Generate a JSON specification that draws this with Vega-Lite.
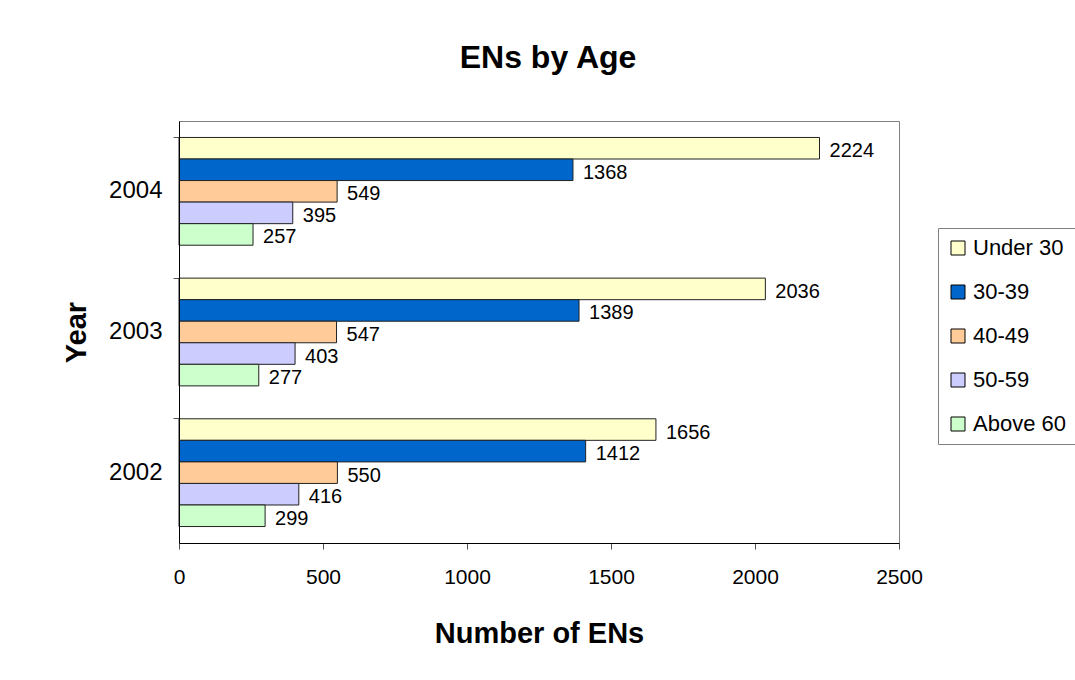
{
  "$schema": "https://vega.github.io/schema/vega-lite/v6.json",
  "autosize": {"type": "none"},
  "width": 720,
  "height": 422,
  "padding": {"left": 179, "top": 121, "right": 176, "bottom": 137},
  "background": "white",
  "title": {
    "text": "ENs by Age",
    "font": "Liberation Sans",
    "fontSize": 32,
    "fontWeight": "bold",
    "color": "black",
    "anchor": "middle",
    "frame": "group",
    "dx": 9,
    "offset": 46
  },
  "data": {
    "values": [
      {"Year": "2004", "Age": "Under 30", "Count": 2224},
      {"Year": "2004", "Age": "30-39", "Count": 1368},
      {"Year": "2004", "Age": "40-49", "Count": 549},
      {"Year": "2004", "Age": "50-59", "Count": 395},
      {"Year": "2004", "Age": "Above 60", "Count": 257},
      {"Year": "2003", "Age": "Under 30", "Count": 2036},
      {"Year": "2003", "Age": "30-39", "Count": 1389},
      {"Year": "2003", "Age": "40-49", "Count": 547},
      {"Year": "2003", "Age": "50-59", "Count": 403},
      {"Year": "2003", "Age": "Above 60", "Count": 277},
      {"Year": "2002", "Age": "Under 30", "Count": 1656},
      {"Year": "2002", "Age": "30-39", "Count": 1412},
      {"Year": "2002", "Age": "40-49", "Count": 550},
      {"Year": "2002", "Age": "50-59", "Count": 416},
      {"Year": "2002", "Age": "Above 60", "Count": 299}
    ]
  },
  "encoding": {
    "yOffset": {
      "field": "Age",
      "type": "nominal",
      "sort": ["Under 30", "30-39", "40-49", "50-59", "Above 60"],
      "scale": {"paddingInner": 0, "paddingOuter": 0}
    },
    "x": {
      "field": "Count",
      "type": "quantitative",
      "scale": {"domain": [0, 2500], "nice": false},
      "axis": {
        "title": "Number of ENs",
        "titleFont": "Liberation Sans",
        "titleFontSize": 29,
        "titleFontWeight": "bold",
        "titleColor": "black",
        "titlePadding": 32,
        "values": [0, 500, 1000, 1500, 2000, 2500],
        "format": "d",
        "labelFont": "Liberation Sans",
        "labelFontSize": 21,
        "labelColor": "black",
        "labelPadding": 17,
        "labelFlush": false,
        "tickSize": 6,
        "tickColor": "#555555",
        "domainColor": "black",
        "grid": false
      }
    }
  },
  "layer": [
    {
      "mark": {"type": "rect", "stroke": "#222222", "strokeWidth": 1},
      "encoding": {
        "y": {
          "field": "Year",
          "type": "ordinal",
          "sort": ["2004", "2003", "2002"],
          "scale": {"paddingInner": 0.234, "paddingOuter": 0.117},
          "axis": {
            "title": "Year",
            "titleFont": "Liberation Sans",
            "titleFontSize": 29,
            "titleFontWeight": "bold",
            "titleColor": "black",
            "titlePadding": 17,
            "labelFont": "Liberation Sans",
            "labelFontSize": 24,
            "labelColor": "black",
            "labelPadding": 17,
            "domainColor": "black",
            "ticks": false,
            "orient": "left"
          }
        },
        "color": {
          "field": "Age",
          "type": "nominal",
          "sort": ["Under 30", "30-39", "40-49", "50-59", "Above 60"],
          "scale": {
            "domain": ["Under 30", "30-39", "40-49", "50-59", "Above 60"],
            "range": ["#FFFFCC", "#0066CC", "#FFCC99", "#CCCCFF", "#CCFFCC"]
          },
          "legend": {
            "title": null,
            "orient": "none",
            "legendX": 759,
            "legendY": 107,
            "strokeColor": "#808080",
            "padding": 9,
            "symbolType": "square",
            "symbolSize": 196,
            "symbolStrokeColor": "black",
            "symbolStrokeWidth": 1,
            "symbolOpacity": 1,
            "labelFont": "Liberation Sans",
            "labelFontSize": 22,
            "labelColor": "black",
            "labelOffset": 4,
            "rowPadding": 22,
            "labelLimit": 200
          }
        }
      }
    },
    {
      "mark": {"type": "text", "align": "left", "baseline": "middle", "dx": 10, "dy": 3, "font": "Liberation Sans", "fontSize": 20, "color": "black"},
      "encoding": {
        "y": {
          "field": "Year",
          "type": "ordinal",
          "sort": ["2004", "2003", "2002"],
          "axis": {
            "orient": "left",
            "title": null,
            "labels": false,
            "domain": false,
            "ticks": true,
            "tickSize": 6,
            "tickColor": "#555555",
            "bandPosition": 0
          }
        },
        "text": {"field": "Count", "type": "quantitative"}
      }
    }
  ],
  "resolve": {"axis": {"y": "independent"}},
  "config": {
    "view": {"stroke": "#808080", "strokeWidth": 1},
    "axis": {"domainWidth": 1}
  }
}
